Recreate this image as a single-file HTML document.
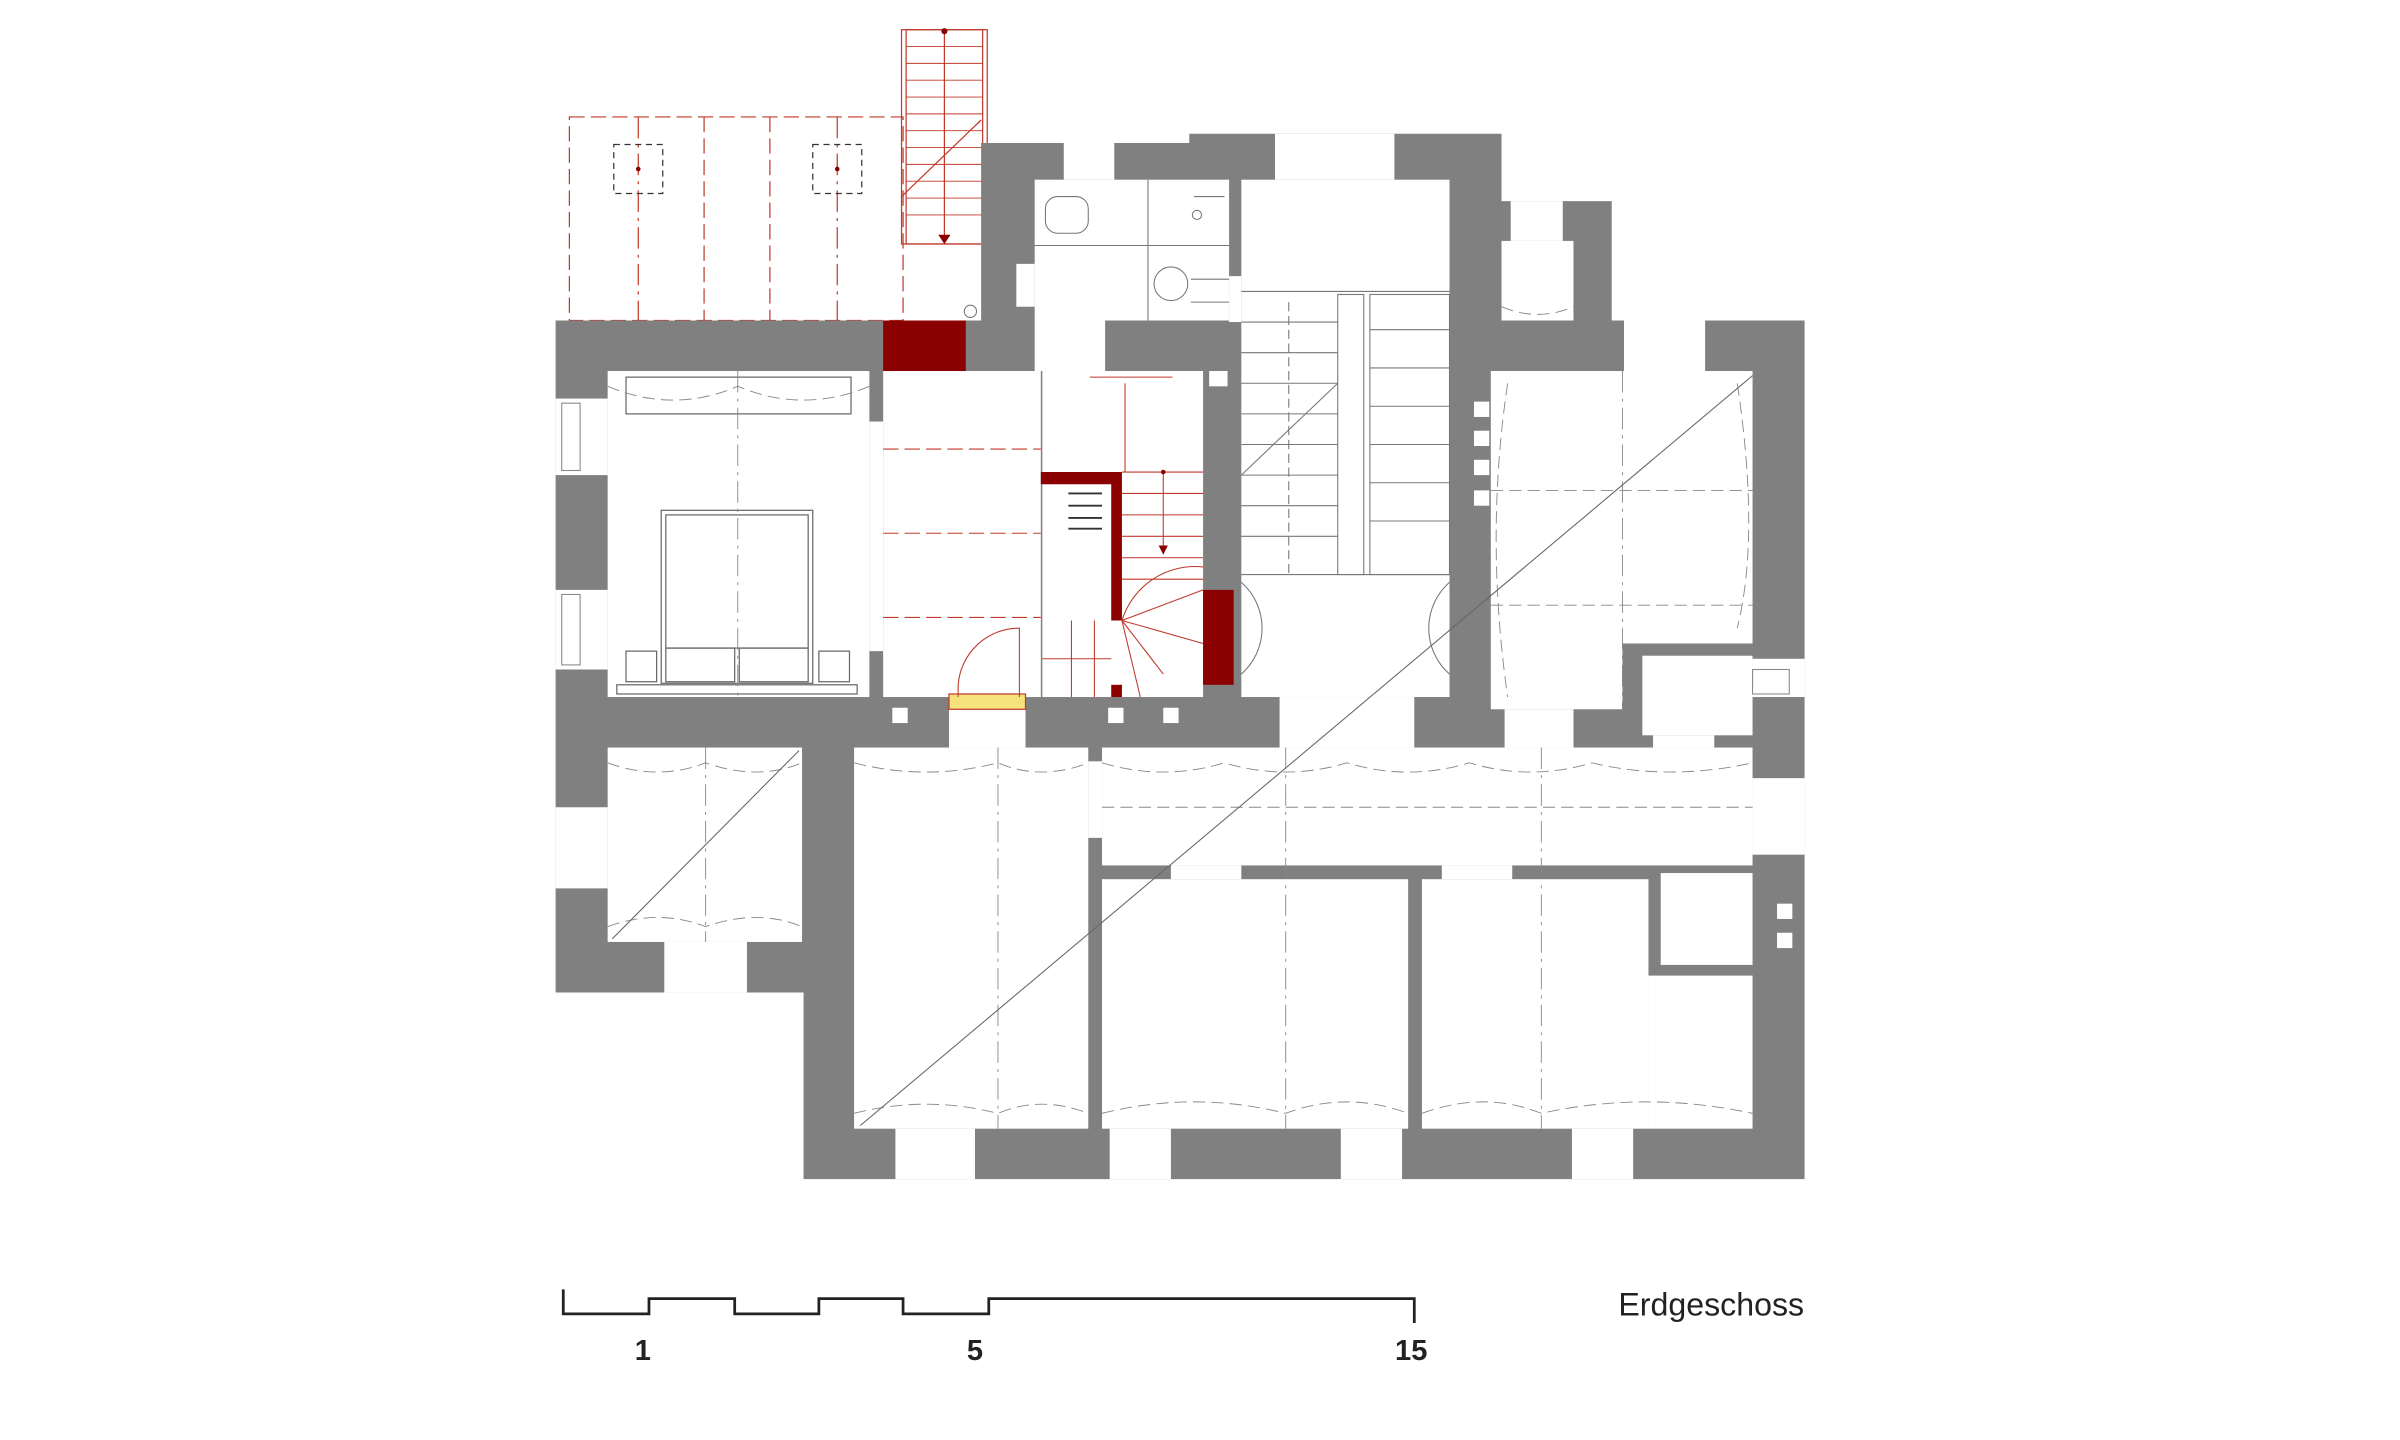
<!DOCTYPE html>
<html><head><meta charset="utf-8">
<style>
html,body{margin:0;padding:0;background:#fff;}
svg{display:block;}
text{font-family:"Liberation Sans",sans-serif;}
</style></head>
<body>
<svg width="2400" height="1440" viewBox="0 0 1568 940" xmlns="http://www.w3.org/2000/svg">
<rect width="1568" height="940" fill="#fff"/>
<!-- red dashed outline top-left -->
<g fill="none" stroke="#c0392b" stroke-width="0.8">
<rect x="372" y="76" width="218" height="133" stroke-dasharray="10,4"/>
<line x1="460" y1="76" x2="460" y2="209" stroke-dasharray="10,4"/>
<line x1="503" y1="76" x2="503" y2="209" stroke-dasharray="10,4"/>
<line x1="417" y1="76" x2="417" y2="209" stroke-dasharray="14,4,2,4"/>
<line x1="547" y1="76" x2="547" y2="209" stroke-dasharray="14,4,2,4"/>
<rect x="401" y="94" width="32" height="32" stroke="#333" stroke-dasharray="4,3"/>
<rect x="531" y="94" width="32" height="32" stroke="#333" stroke-dasharray="4,3"/>
<!-- outside stair -->
<rect x="589" y="19" width="56" height="140"/>
<rect x="592" y="19" width="50" height="140"/>
<line x1="617" y1="19" x2="617" y2="155"/>
<line x1="589" y1="128" x2="641" y2="78"/>
</g>
<g stroke="#c0392b" stroke-width="0.6">
<line x1="592" y1="30" x2="642" y2="30"/><line x1="592" y1="41" x2="642" y2="41"/>
<line x1="592" y1="52" x2="642" y2="52"/><line x1="592" y1="63" x2="642" y2="63"/>
<line x1="592" y1="74" x2="642" y2="74"/><line x1="592" y1="85" x2="642" y2="85"/>
<line x1="592" y1="96" x2="642" y2="96"/><line x1="592" y1="107" x2="642" y2="107"/>
<line x1="592" y1="118" x2="642" y2="118"/><line x1="592" y1="129" x2="642" y2="129"/>
<line x1="592" y1="140" x2="642" y2="140"/>
</g>
<circle cx="617" cy="20" r="2" fill="#8b0000"/>
<polygon points="613,153 621,153 617,159" fill="#8b0000"/>
<circle cx="417" cy="110" r="1.5" fill="#8b0000"/><circle cx="547" cy="110" r="1.5" fill="#8b0000"/>

<!-- walls -->
<polygon fill="#808080" points="363,209 641,209 641,93 777,93 777,87 981,87 981,131 1053,131 1053,209 1179,209 1179,770 525,770 525,648 363,648"/>

<!-- rooms -->
<g fill="#fff">
<rect x="397" y="242" width="171" height="213"/>
<rect x="577" y="242" width="103" height="213"/>
<rect x="681" y="242" width="105" height="213"/>
<rect x="811" y="117" width="136" height="338"/>
<rect x="676" y="117" width="127" height="92"/>
<rect x="974" y="242" width="171" height="178"/>
<rect x="974" y="420" width="86" height="43"/>
<rect x="1073" y="428" width="72" height="52"/>
<rect x="981" y="157" width="47" height="52"/>
<rect x="397" y="488" width="127" height="127"/>
<rect x="558" y="488" width="153" height="249"/>
<rect x="720" y="488" width="425" height="77"/>
<rect x="720" y="574" width="200" height="163"/>
<rect x="929" y="574" width="148" height="163"/>
<rect x="1077" y="637" width="68" height="100"/>
<rect x="1085" y="570" width="60" height="60"/>
<!-- openings -->
<rect x="585" y="737" width="52" height="33"/>
<rect x="725" y="737" width="40" height="33"/>
<rect x="876" y="737" width="40" height="33"/>
<rect x="1027" y="737" width="40" height="33"/>
<rect x="833" y="87" width="78" height="30"/>
<rect x="695" y="93" width="33" height="24"/>
<rect x="363" y="260" width="34" height="50"/>
<rect x="363" y="385" width="34" height="52"/>
<rect x="363" y="527" width="34" height="53"/>
<rect x="1145" y="430" width="34" height="25"/>
<rect x="1145" y="508" width="34" height="50"/>
<rect x="987" y="131" width="34" height="26"/>
<rect x="1061" y="209" width="53" height="33"/>
<rect x="434" y="615" width="54" height="33"/>
<rect x="620" y="455" width="50" height="33"/>
<rect x="836" y="455" width="88" height="33"/>
<rect x="711" y="497" width="9" height="50"/>
<rect x="765" y="565" width="46" height="9"/>
<rect x="942" y="565" width="46" height="9"/>
<rect x="983" y="463" width="45" height="25"/>
<rect x="1080" y="480" width="40" height="8"/>
<rect x="676" y="209" width="46" height="33"/>
<rect x="568" y="275" width="9" height="150"/>
<rect x="664" y="172" width="12" height="28"/>
<rect x="803" y="180" width="8" height="30"/>
<rect x="583" y="462" width="10" height="10"/><rect x="724" y="462" width="10" height="10"/><rect x="760" y="462" width="10" height="10"/>
<rect x="963" y="262" width="10" height="10"/><rect x="963" y="281" width="10" height="10"/><rect x="963" y="300" width="10" height="10"/><rect x="963" y="320" width="10" height="10"/>
<rect x="1161" y="590" width="10" height="10"/><rect x="1161" y="609" width="10" height="10"/>
<rect x="790" y="242" width="12" height="10"/>
</g>
<g fill="none" stroke="#888" stroke-width="0.7">
<rect x="367" y="263" width="12" height="44"/><rect x="367" y="388" width="12" height="46"/>
<rect x="1145" y="437" width="24" height="16"/>
</g>

<!-- red elements -->
<rect x="577" y="209" width="54" height="33" fill="#8b0000"/>
<rect x="786" y="385" width="20" height="62" fill="#8b0000"/>
<polygon points="680,308 733,308 733,405 726,405 726,316 680,316" fill="#8b0000"/>
<rect x="726" y="447" width="7" height="8" fill="#8b0000"/>
<rect x="620" y="453" width="50" height="10" fill="#f5e27a" stroke="#c0392b" stroke-width="0.8"/>
<g stroke="#c0392b" stroke-width="0.7" fill="none">
<line x1="577" y1="293" x2="680" y2="293" stroke-dasharray="10,4"/>
<line x1="577" y1="348" x2="680" y2="348" stroke-dasharray="10,4"/>
<line x1="577" y1="403" x2="680" y2="403" stroke-dasharray="10,4"/>
<line x1="733" y1="308" x2="786" y2="308"/><line x1="733" y1="322" x2="786" y2="322"/>
<line x1="733" y1="336" x2="786" y2="336"/><line x1="733" y1="350" x2="786" y2="350"/>
<line x1="733" y1="364" x2="786" y2="364"/><line x1="733" y1="378" x2="786" y2="378"/>
<line x1="760" y1="308" x2="760" y2="358"/>
<line x1="733" y1="405" x2="786" y2="385"/><line x1="733" y1="405" x2="786" y2="420"/>
<line x1="733" y1="405" x2="760" y2="440"/><line x1="733" y1="405" x2="745" y2="455"/>
<line x1="681" y1="430" x2="726" y2="430"/><line x1="700" y1="405" x2="700" y2="455"/><line x1="715" y1="405" x2="715" y2="455"/>
<line x1="735" y1="250" x2="735" y2="308"/><line x1="712" y1="246" x2="766" y2="246"/>
<path d="M626,455 L626,447 A40,40 0 0 1 666,410 L666,455"/>
<path d="M733,405 A50,50 0 0 1 786,370"/>
</g>
<circle cx="760" cy="308" r="1.5" fill="#8b0000"/>
<polygon points="757,356 763,356 760,362" fill="#8b0000"/>
<g stroke="#333" stroke-width="1.2"><line x1="698" y1="322" x2="720" y2="322"/><line x1="698" y1="330" x2="720" y2="330"/><line x1="698" y1="338" x2="720" y2="338"/><line x1="698" y1="345" x2="720" y2="345"/></g>

<!-- stair hall -->
<g stroke="#777" stroke-width="0.7" fill="none">
<rect x="874" y="192" width="17" height="183"/>
<rect x="895" y="192" width="52" height="183"/>
<line x1="811" y1="375" x2="947" y2="375"/><line x1="811" y1="190" x2="947" y2="190"/>
<line x1="811" y1="210" x2="874" y2="210"/><line x1="811" y1="230" x2="874" y2="230"/>
<line x1="811" y1="250" x2="874" y2="250"/><line x1="811" y1="270" x2="874" y2="270"/>
<line x1="811" y1="290" x2="874" y2="290"/><line x1="811" y1="310" x2="874" y2="310"/>
<line x1="811" y1="330" x2="874" y2="330"/><line x1="811" y1="350" x2="874" y2="350"/>
<line x1="895" y1="215" x2="947" y2="215"/><line x1="895" y1="240" x2="947" y2="240"/>
<line x1="895" y1="265" x2="947" y2="265"/><line x1="895" y1="290" x2="947" y2="290"/>
<line x1="895" y1="315" x2="947" y2="315"/><line x1="895" y1="340" x2="947" y2="340"/>
<line x1="842" y1="197" x2="842" y2="375" stroke-dasharray="6,3"/>
<line x1="811" y1="310" x2="874" y2="250"/>
<path d="M811,380 A40,40 0 0 1 811,440"/><path d="M947,380 A40,40 0 0 0 947,440"/>
<!-- WC -->
<line x1="750" y1="117" x2="750" y2="209"/><line x1="676" y1="160" x2="803" y2="160"/>
<rect x="683" y="128" width="28" height="24" rx="8"/>
<circle cx="765" cy="185" r="11"/><circle cx="782" cy="140" r="3"/>
<line x1="780" y1="128" x2="800" y2="128"/>
<circle cx="634" cy="203" r="4"/>
<line x1="778" y1="182" x2="803" y2="182"/><line x1="778" y1="197" x2="803" y2="197"/>
</g>

<!-- bedroom furniture -->
<g stroke="#666" stroke-width="0.8" fill="none">
<rect x="409" y="246" width="147" height="24"/>
<rect x="432" y="333" width="99" height="113"/>
<rect x="435" y="336" width="93" height="87"/>
<rect x="435" y="423" width="45" height="22"/><rect x="483" y="423" width="45" height="22"/>
<rect x="409" y="425" width="20" height="20"/><rect x="535" y="425" width="20" height="20"/>
<rect x="403" y="447" width="157" height="6"/>
</g>

<!-- vault dashed lines -->
<g stroke="#888" stroke-width="0.6" fill="none" stroke-dasharray="8,4">
<line x1="482" y1="242" x2="482" y2="455" stroke-dasharray="14,4,2,4"/>
<line x1="461" y1="488" x2="461" y2="615" stroke-dasharray="14,4,2,4"/>
<line x1="652" y1="488" x2="652" y2="737" stroke-dasharray="14,4,2,4"/>
<line x1="720" y1="527" x2="1145" y2="527"/>
<line x1="840" y1="488" x2="840" y2="737" stroke-dasharray="14,4,2,4"/>
<line x1="1007" y1="488" x2="1007" y2="737" stroke-dasharray="14,4,2,4"/>
<line x1="1060" y1="242" x2="1060" y2="463" stroke-dasharray="14,4,2,4"/>
<line x1="974" y1="320" x2="1145" y2="320"/><line x1="974" y1="395" x2="1145" y2="395"/>
<path d="M397,252 Q440,270 482,252 Q525,270 568,252"/>
<path d="M397,498 Q430,510 461,498 Q495,510 524,498"/>
<path d="M397,605 Q430,593 461,605 Q495,593 524,605"/>
<path d="M558,498 Q605,510 652,498 Q680,510 711,498"/>
<path d="M558,727 Q605,715 652,727 Q680,715 711,727"/>
<path d="M720,498 Q760,510 800,498 Q840,510 880,498 Q920,510 960,498 Q1000,510 1040,498 Q1090,510 1145,498"/>
<path d="M720,727 Q780,712 840,727 Q880,712 920,727"/>
<path d="M929,727 Q970,712 1007,727 Q1075,712 1145,727"/>
<path d="M985,250 Q970,350 985,455"/><path d="M1135,250 Q1150,350 1135,410"/>
<path d="M981,200 Q1005,210 1028,200"/>
</g>
<g stroke="#666" stroke-width="0.7">
<line x1="562" y1="735" x2="1145" y2="245"/>
<line x1="400" y1="613" x2="522" y2="490"/>
</g>

<!-- scale -->
<polyline fill="none" stroke="#222" stroke-width="1.8" points="368,842 368,858 424,858 424,848 480,848 480,858 535,858 535,848 590,848 590,858 646,858 646,848 924,848 924,864"/>
<text x="420" y="888" font-size="19" font-weight="bold" text-anchor="middle" fill="#222">1</text>
<text x="637" y="888" font-size="19" font-weight="bold" text-anchor="middle" fill="#222">5</text>
<text x="922" y="888" font-size="19" font-weight="bold" text-anchor="middle" fill="#222">15</text>
<text x="1118" y="859" font-size="21" text-anchor="middle" fill="#222">Erdgeschoss</text>
</svg>
</body></html>
